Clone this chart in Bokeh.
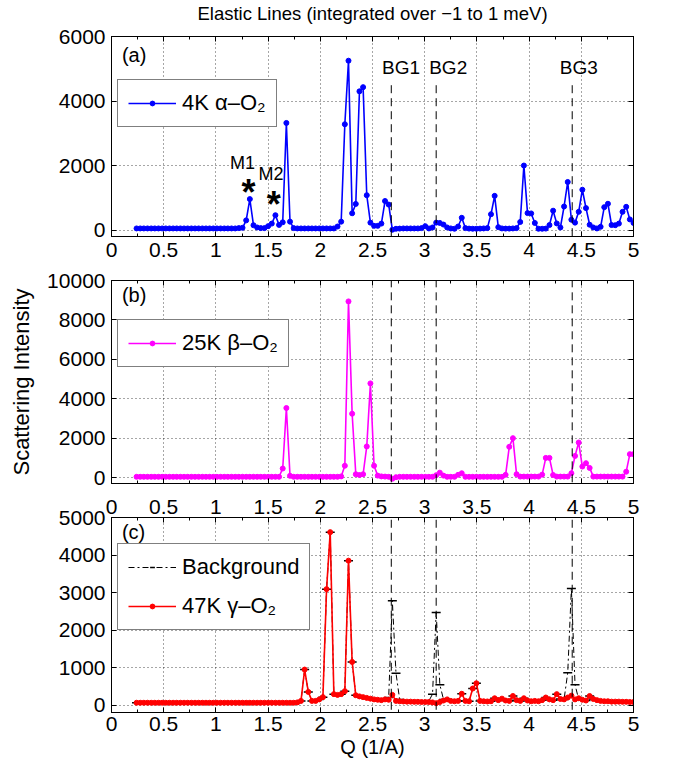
from bokeh.plotting import figure
from bokeh.layouts import column
from bokeh.models import (Range1d, LinearAxis, SingleIntervalTicker, FixedTicker,
                          NumeralTickFormatter, Legend, LegendItem, Label, Arrow)
from bokeh.embed import file_html
from bokeh.resources import INLINE

FONT = "Liberation Sans"

# ---------------- data ----------------
Q = [0.24, 0.275, 0.31, 0.345, 0.38, 0.415, 0.45, 0.485, 0.52, 0.555,
     0.59, 0.625, 0.66, 0.695, 0.73, 0.765, 0.8, 0.835, 0.87, 0.905,
     0.94, 0.975, 1.01, 1.045, 1.08, 1.115, 1.15, 1.185, 1.22, 1.255,
     1.29, 1.325, 1.36, 1.395, 1.43, 1.465, 1.5, 1.535, 1.57, 1.605,
     1.64, 1.675, 1.71, 1.745, 1.78, 1.815, 1.85, 1.885, 1.92, 1.955,
     1.99, 2.025, 2.06, 2.095, 2.13, 2.165, 2.2, 2.235, 2.27, 2.305,
     2.34, 2.375, 2.41, 2.445, 2.48, 2.515, 2.55, 2.585, 2.62, 2.655,
     2.69, 2.725, 2.76, 2.795, 2.83, 2.865, 2.9, 2.935, 2.97, 3.005,
     3.04, 3.075, 3.11, 3.145, 3.18, 3.215, 3.25, 3.285, 3.32, 3.355,
     3.39, 3.425, 3.46, 3.495, 3.53, 3.565, 3.6, 3.635, 3.67, 3.705,
     3.74, 3.775, 3.81, 3.845, 3.88, 3.915, 3.95, 3.985, 4.02, 4.055,
     4.09, 4.125, 4.16, 4.195, 4.23, 4.265, 4.3, 4.335, 4.37, 4.405,
     4.44, 4.475, 4.51, 4.545, 4.58, 4.615, 4.65, 4.685, 4.72, 4.755,
     4.79, 4.825, 4.86, 4.895, 4.93, 4.965, 5.0]

alpha_4K = [50, 50, 50, 50, 50, 50, 50, 50, 50, 50,
            50, 50, 50, 50, 50, 50, 50, 50, 50, 50,
            50, 50, 50, 50, 50, 50, 50, 50, 60, 70,
            300, 960, 150, 80, 60, 60, 120, 200, 460, 160,
            240, 3320, 260, 60, 50, 50, 50, 50, 50, 50,
            50, 50, 50, 50, 50, 110, 260, 3280, 5250, 520,
            810, 4300, 4430, 1080, 230, 130, 130, 200, 900, 790,
            10, 40, 45, 50, 50, 50, 50, 50, 60, 120,
            50, 80, 230, 220, 170, 80, 50, 40, 110, 380,
            60, 45, 40, 40, 45, 50, 60, 490, 1060, 90,
            50, 45, 45, 50, 60, 250, 2000, 525, 515, 220,
            40, 40, 45, 155, 600, 205, 80, 730, 1490, 320,
            230, 565, 1250, 680, 165, 80, 50, 100, 710, 815,
            155, 150, 200, 565, 720, 330, 220]

beta_25K = [40, 40, 40, 40, 40, 40, 40, 40, 40, 40,
            40, 40, 40, 40, 40, 40, 40, 40, 40, 40,
            40, 40, 40, 40, 40, 40, 40, 40, 40, 40,
            40, 40, 40, 40, 40, 40, 40, 40, 40, 40,
            460, 3530, 90, 40, 40, 40, 40, 40, 40, 40,
            40, 40, 40, 40, 40, 40, 60, 600, 8940, 3240,
            170, 130, 170, 1580, 4780, 600, 100, 60, 50, 40,
            -60, 20, 40, 40, 40, 40, 40, 40, 40, 40,
            40, 40, 120, 250, 100, 40, 40, 40, 140, 220,
            40, 40, 40, 40, 40, 40, 40, 40, 40, 40,
            40, 140, 1560, 2000, 170, 50, 50, 50, 50, 50,
            50, 150, 1000, 1000, 130, 50, 50, 50, 50, 220,
            1100, 1780, 560, 730, 490, 50, 50, 50, 50, 50,
            50, 50, 50, 50, 300, 1190, 1190]

gamma_47K = [60, 60, 60, 60, 60, 60, 60, 60, 60, 60,
             60, 60, 60, 60, 60, 60, 60, 60, 60, 60,
             60, 60, 60, 60, 60, 60, 60, 60, 60, 60,
             60, 60, 60, 60, 60, 60, 60, 60, 60, 60,
             60, 60, 60, 60, 70, 110, 945, 350, 110, 110,
             150, 210, 3090, 4610, 290, 270, 290, 370, 3850, 1150,
             260, 230, 210, 190, 170, 150, 140, 130, 150, 140,
             270, 110, 100, 95, 90, 90, 85, 85, 80, 80,
             80, 70, 50, 80, 120, 150, 110, 100, 110, 300,
             110, 100, 440, 580, 110, 100, 95, 100, 180, 130,
             170, 120, 110, 240, 130, 110, 180, 120, 100, 110,
             100, 130, 200, 150, 130, 290, 160, 150, 200, 250,
             150, 180, 140, 120, 240, 160, 130, 110, 100, 100,
             90, 90, 90, 85, 85, 80, 80]

background = [60, 60, 60, 60, 60, 60, 60, 60, 60, 60,
              60, 60, 60, 60, 60, 60, 60, 60, 60, 60,
              60, 60, 60, 60, 60, 60, 60, 60, 60, 60,
              60, 60, 60, 60, 60, 60, 60, 60, 60, 60,
              60, 60, 60, 60, 70, 110, 945, 350, 110, 110,
              150, 210, 3090, 4610, 290, 270, 290, 370, 3850, 1150,
              260, 230, 210, 190, 170, 150, 140, 130, 150, 200,
              2780, 850, 150, 95, 90, 90, 85, 85, 80, 80,
              110, 290, 2470, 540, 150, 150, 110, 100, 110, 300,
              110, 100, 440, 580, 110, 100, 95, 100, 180, 130,
              170, 120, 110, 240, 130, 110, 180, 120, 100, 110,
              100, 130, 200, 150, 130, 290, 160, 150, 860, 3110,
              540, 150, 140, 120, 240, 160, 130, 110, 100, 100,
              90, 90, 90, 85, 85, 80, 80]

BG_Q = [2.68, 3.11, 4.413]
BG_NAMES = ["BG1", "BG2", "BG3"]
BG_LABEL_Q = [2.773, 3.225, 4.476]

YTICKS_A = [0, 2000, 4000, 6000]
YTICKS_B = [0, 2000, 4000, 6000, 8000, 10000]
YTICKS_C = [0, 1000, 2000, 3000, 4000, 5000]

assert len(Q) == len(alpha_4K) == len(beta_25K) == len(gamma_47K) == len(background) == 137


def style_axis(ax, standoff, hidden=False):
    ax.axis_line_color = "black"
    ax.axis_line_width = 1
    ax.major_tick_in = 5
    ax.major_tick_out = 0
    ax.minor_tick_in = 3
    ax.minor_tick_out = 0
    ax.major_tick_line_color = "black"
    ax.minor_tick_line_color = "black"
    ax.major_label_text_font = FONT
    ax.major_label_text_font_size = "21px"
    ax.major_label_text_color = "black"
    ax.major_label_standoff = standoff
    if hidden:
        ax.major_label_text_font_size = "0px"


def make_fig(height, ymin, ymax, yticks, top, bottom, show_bottom=True, show_top=False,
             bottom_standoff=6, top_standoff=4):
    p = figure(width=673, height=height, output_backend="svg", toolbar_location=None,
               x_range=Range1d(0, 5), y_range=Range1d(ymin, ymax),
               min_border_left=111, min_border_right=40,
               min_border_top=top, min_border_bottom=bottom)
    xt = SingleIntervalTicker(interval=0.5, num_minor_ticks=2)
    yt = FixedTicker(ticks=yticks)
    fmt = NumeralTickFormatter(format="0.[0]")
    bottom_ax = p.below[0]
    left_ax = p.left[0]
    bottom_ax.ticker = xt
    bottom_ax.formatter = fmt
    left_ax.ticker = yt
    style_axis(bottom_ax, bottom_standoff if show_bottom else 0, hidden=not show_bottom)
    style_axis(left_ax, 6)
    top_ax = LinearAxis(ticker=xt, formatter=fmt)
    right_ax = LinearAxis(ticker=yt)
    style_axis(top_ax, top_standoff if show_top else 0, hidden=not show_top)
    style_axis(right_ax, 0, hidden=True)
    p.add_layout(top_ax, "above")
    p.add_layout(right_ax, "right")
    p.xgrid.ticker = xt
    p.ygrid.ticker = yt
    for g in (p.xgrid[0], p.ygrid[0]):
        g.grid_line_color = "black"
        g.grid_line_alpha = 0.7
        g.grid_line_dash = "1 3"
        g.grid_line_width = 1
    p.outline_line_color = "black"
    p.outline_line_width = 1
    p.background_fill_color = "white"
    p.border_fill_color = "white"
    return p, top_ax


def style_legend(lg, spacing=4):
    lg.border_line_color = "black"
    lg.border_line_width = 1
    lg.background_fill_color = "white"
    lg.background_fill_alpha = 1
    lg.label_text_font = FONT
    lg.label_text_font_size = "22px"
    lg.label_text_color = "black"
    lg.glyph_width = 48
    lg.glyph_height = 12
    lg.label_height = 26
    lg.label_standoff = 6
    lg.padding = 10
    lg.margin = 0
    lg.spacing = spacing


def panel_label(p, x, y, text, size="20px", bold=False, align="left"):
    p.add_layout(Label(x=x, y=y, text=text, text_font=FONT, text_font_size=size,
                       text_font_style="bold" if bold else "normal",
                       text_align=align, text_baseline="middle", text_color="black"))


def bg_lines(p, y0, y1):
    for qx in BG_Q:
        p.add_layout(Arrow(end=None, x_start=qx, y_start=y0, x_end=qx, y_end=y1,
                           line_color="black", line_width=1, line_dash="8 5"))


# ---------------- panel (a) ----------------
pa, top_a = make_fig(266, -200, 6000, YTICKS_A, 36, 30)
# a blank axis label on the (hidden) top axis leaves a gap between title and frame
top_a.axis_label = " "
top_a.axis_label_text_font = FONT
top_a.axis_label_text_font_size = "9px"
top_a.axis_label_standoff = 0
pa.title.text = "Elastic Lines (integrated over \u22121 to 1 meV)"
pa.title.text_font = FONT
pa.title.text_font_size = "18.5px"
pa.title.text_font_style = "normal"
pa.title.text_color = "black"
pa.title.align = "center"
pa.title.standoff = 0

ra_l = pa.line(Q, alpha_4K, line_color="#0000FF", line_width=1.6)
ra_s = pa.scatter(Q, alpha_4K, size=5, fill_color="#0000FF", line_color="#0000FF")
bg_lines(pa, 4490, -1400)
lga = Legend(items=[LegendItem(label="4K \u03b1\u2013O\u2082", renderers=[ra_l, ra_s])],
             location=(6, 109))
style_legend(lga)
pa.add_layout(lga)
panel_label(pa, 0.1, 5442, "(a)")
panel_label(pa, 1.255, 2094, "M1", size="18px", align="center")
panel_label(pa, 1.528, 1728, "M2", size="18px", align="center")
panel_label(pa, 1.312, 1170, "*", size="36px", bold=True, align="center")
panel_label(pa, 1.555, 800, "*", size="36px", bold=True, align="center")
for qx, name in zip(BG_LABEL_Q, BG_NAMES):
    panel_label(pa, qx, 5048, name, size="19px", align="center")

# ---------------- panel (b) ----------------
pb, _ = make_fig(223, -300, 10000, YTICKS_B, 14, 6, show_bottom=False)
pb.left[0].axis_label = "Scattering Intensity"
pb.left[0].axis_label_text_font = FONT
pb.left[0].axis_label_text_font_size = "22px"
pb.left[0].axis_label_text_font_style = "normal"
pb.left[0].axis_label_text_color = "black"
pb.left[0].axis_label_standoff = 10
rb_l = pb.line(Q, beta_25K, line_color="#FF00FF", line_width=1.6)
rb_s = pb.scatter(Q, beta_25K, size=5, fill_color="#FF00FF", line_color="#FF00FF")
bg_lines(pb, -900, 11500)
lgb = Legend(items=[LegendItem(label="25K \u03b2\u2013O\u2082", renderers=[rb_l, rb_s])],
             location=(6, 116))
style_legend(lgb)
pb.add_layout(lgb)
panel_label(pb, 0.1, 9239, "(b)")

# ---------------- panel (c) ----------------
pc, _ = make_fig(282, -200, 5000, YTICKS_C, 28, 59, show_top=True, bottom_standoff=4)
pc.below[0].axis_label = "Q (1/A)"
pc.below[0].axis_label_text_font = FONT
pc.below[0].axis_label_text_font_size = "20px"
pc.below[0].axis_label_text_font_style = "normal"
pc.below[0].axis_label_text_color = "black"
pc.below[0].axis_label_standoff = 2
rk_l = pc.line(Q, background, line_color="black", line_width=1, line_dash="6 3 2 3")
rk_s = pc.scatter(Q, background, marker="dash", size=9, line_color="black", line_width=1.5)
rc_l = pc.line(Q, gamma_47K, line_color="#FF0000", line_width=1.6)
rc_s = pc.scatter(Q, gamma_47K, size=5, fill_color="#FF0000", line_color="#FF0000")
bg_lines(pc, -820, 6500)
lgc = Legend(items=[LegendItem(label="Background", renderers=[rk_l, rk_s]),
                    LegendItem(label="47K \u03b3\u2013O\u2082", renderers=[rc_l, rc_s])],
             location=(6, 82))
style_legend(lgc, spacing=13)
pc.add_layout(lgc)
panel_label(pc, 0.1, 4618, "(c)")

layout = column(pa, pb, pc, spacing=0)
open("out.html", "w").write(file_html(layout, INLINE))
